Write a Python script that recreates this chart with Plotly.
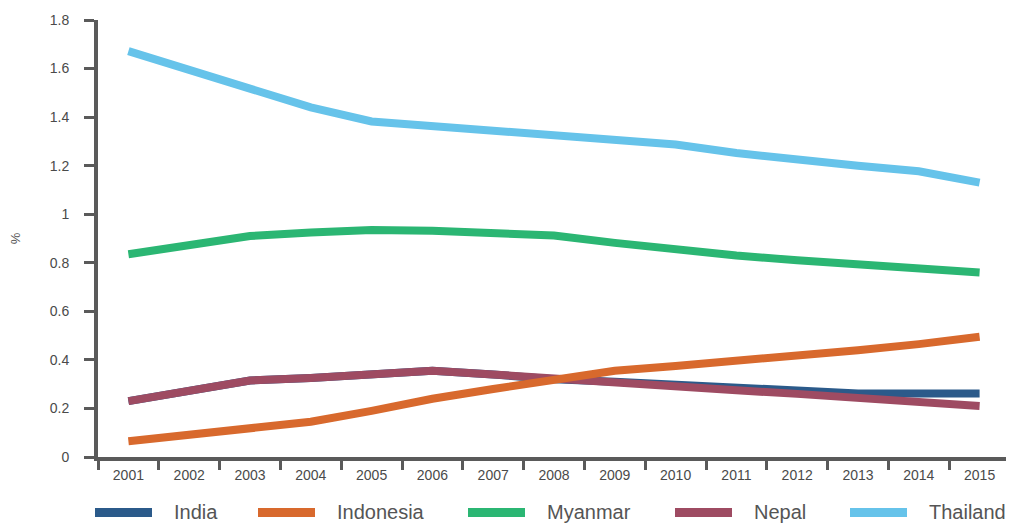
import plotly.graph_objects as go

years = [str(y) for y in range(2001, 2016)]
india = [0.23, 0.27, 0.315, 0.325, 0.34, 0.355, 0.34, 0.32, 0.31, 0.30, 0.29, 0.275, 0.262, 0.262, 0.262]
indonesia = [0.065, 0.09, 0.115, 0.145, 0.19, 0.24, 0.28, 0.32, 0.355, 0.375, 0.395, 0.415, 0.44, 0.465, 0.495]
myanmar = [0.835, 0.87, 0.91, 0.925, 0.935, 0.932, 0.922, 0.912, 0.882, 0.852, 0.83, 0.81, 0.795, 0.778, 0.76]
nepal = [0.23, 0.27, 0.315, 0.325, 0.34, 0.355, 0.34, 0.322, 0.305, 0.29, 0.275, 0.26, 0.245, 0.228, 0.21]
thailand = [1.672, 1.595, 1.52, 1.44, 1.382, 1.362, 1.342, 1.323, 1.305, 1.287, 1.252, 1.222, 1.2, 1.177, 1.13]

names = ["India", "Indonesia", "Myanmar", "Nepal", "Thailand"]
values = [india, indonesia, myanmar, nepal, thailand]
colors = ["#2B5A8A", "#D8692D", "#2BB673", "#9E4B62", "#66C3EA"]
draw_order = [0, 3, 2, 1, 4]   # Nepal over India, Indonesia over Nepal

# page has an 8px body margin; work in page pixels and convert
OFF = 8
W, H = 1014 - OFF, 524 - OFF
PL, PR, PT, PB = 98, 1010, 20, 457          # plot area in page pixels
ML, MR, MT = PL - OFF, 1014 - PR, PT - OFF
MB = H - (PB - OFF)
PW, PH = PR - PL, PB - PT

# custom legend layout (page pixels)
legend_key_px = [95, 258, 468, 675, 850]
KEY_W, TEXT_GAP = 57, 22

def px_x(px):
    return (px - PL) / PW

def px_y(py):
    return (PB - py) / PH

fig = go.Figure()
for i in draw_order:
    fig.add_trace(go.Scatter(x=years, y=values[i], name=names[i], mode="lines",
                             line=dict(color=colors[i], width=8), showlegend=False))

shapes, annotations = [], []
for name, col, kx in zip(names, colors, legend_key_px):
    shapes.append(dict(type="rect", xref="paper", yref="paper",
                       x0=px_x(kx), x1=px_x(kx + KEY_W), y0=px_y(517), y1=px_y(508),
                       fillcolor=col, line=dict(width=0), layer="above"))
    annotations.append(dict(text=name, xref="paper", yref="paper",
                            x=px_x(kx + KEY_W + TEXT_GAP - 2), y=px_y(512),
                            xanchor="left", yanchor="middle", showarrow=False,
                            font=dict(size=20, color="#555")))

axis_col = "#5a5a5a"
fig.update_layout(
    width=W, height=H,
    margin=dict(l=ML, r=MR, t=MT, b=MB, autoexpand=False),
    plot_bgcolor="white", paper_bgcolor="white",
    font=dict(family="Liberation Sans, Arial, sans-serif", color="#444"),
    showlegend=False,
    shapes=shapes, annotations=annotations,
    xaxis=dict(type="category", tickson="boundaries", ticks="outside", ticklen=9,
               tickwidth=3, tickcolor=axis_col, showline=True, linecolor=axis_col,
               linewidth=4, showgrid=False, tickfont=dict(size=14, color="#4a4a4a"),
               range=[-0.5, 14.5], ticklabelstandoff=2),
    yaxis=dict(range=[0, 1.8], dtick=0.2, ticks="outside", ticklen=10, tickwidth=3,
               tickcolor=axis_col, showline=True, linecolor=axis_col, linewidth=4,
               showgrid=False, zeroline=False, tickfont=dict(size=14, color="#4a4a4a"),
               tickformat="~g", ticklabelstandoff=12,
               title=dict(text="%", font=dict(size=13, color="#555"), standoff=42)),
)

fig.write_html("out.html")
